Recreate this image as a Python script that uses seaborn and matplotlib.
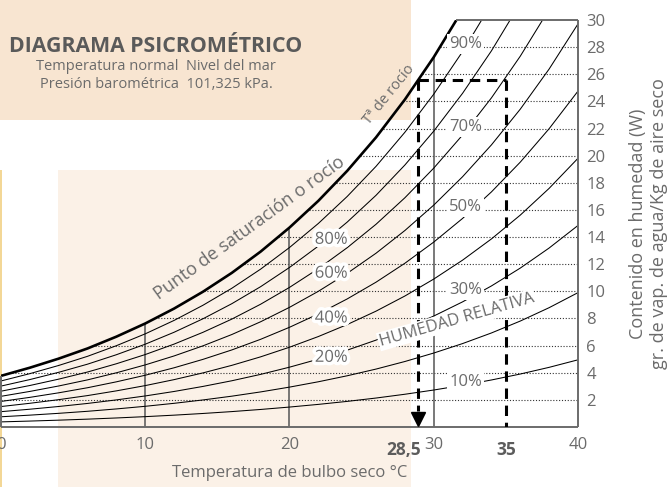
import numpy as np
import pandas as pd
import seaborn as sns
import matplotlib
matplotlib.use('Agg')
import matplotlib.pyplot as plt
import matplotlib.patheffects as pe
from matplotlib.patches import Rectangle

# Dry bulb temperature (°C) and saturation moisture content (g/kg)
temps = [0, 2, 4, 6, 8, 10, 12, 14, 16, 18, 20, 22, 24, 26, 28, 30, 32, 34, 36, 38, 40]
w_sat = [3.77, 4.37, 5.04, 5.79, 6.66, 7.63, 8.73, 9.97, 11.36, 12.93, 14.70,
         16.67, 18.88, 21.35, 24.14, 27.26, 30.75, 34.66, 39.05, 43.98, 49.52]

# Relative humidity curves (%)
rh_levels = [10, 20, 30, 40, 50, 60, 70, 80, 90]

# Curve labels: right column and left column (label -> moisture content where it sits)
right_labels = {90: 28.2, 70: 22.1, 50: 16.2, 30: 10.1, 10: 3.3}
left_labels = {80: 13.8, 60: 11.3, 40: 8.0, 20: 5.1}

# Axis ticks
x_ticks = [0, 10, 20, 30, 40]
y_ticks = list(range(2, 31, 2))
grid_w = list(range(2, 30, 2))
guide_temps = [10, 20, 30]

# Worked example: 35 °C air, dew point 28,5 °C
dry_bulb = 35
dew_point = 28.9
dew_label = '28,5'
point_w = 25.6

GRAY = '#6b6b6b'

# Build long table of RH curves
rows = []
for rh in rh_levels:
    for t, w in zip(temps, w_sat):
        rows.append({'temp': t, 'w': w * rh / 100, 'rh': rh})
df_rh = pd.DataFrame(rows)
df_sat = pd.DataFrame({'temp': temps, 'w': w_sat})

sns.set_theme(style='white')
plt.rcParams['font.family'] = ['Open Sans', 'DejaVu Sans']

fig = plt.figure(figsize=(6.7, 4.87), dpi=100)
ax = fig.add_axes([1 / 670, 60 / 487, 577 / 670, 407 / 487])
ax.patch.set_alpha(0)

# Background panels
fig.add_artist(Rectangle((0, 367 / 487), 411 / 670, 120 / 487, transform=fig.transFigure,
                         facecolor='#f8e5d1', edgecolor='none', zorder=-2))
fig.add_artist(Rectangle((58 / 670, 0), 353 / 670, 317 / 487, transform=fig.transFigure,
                         facecolor='#fbf1e7', edgecolor='none', zorder=-2))
fig.add_artist(Rectangle((0, 0), 2 / 670, 317 / 487, transform=fig.transFigure,
                         facecolor='#f3d796', edgecolor='none', zorder=-2))

# Dotted moisture grid from the saturation curve to 40 °C
for w in grid_w:
    x0 = np.interp(w, w_sat, temps) if w > w_sat[0] else 0
    ax.hlines(w, x0, 40, colors='#333333', linestyles=(0, (1, 1.6)), lw=0.8, zorder=1)

# Vertical guide lines up to saturation
for t in guide_temps:
    ax.vlines(t, 0, np.interp(t, temps, w_sat), colors='#555555', lw=1.1, zorder=1)

# RH curves and saturation curve
sns.lineplot(data=df_rh, x='temp', y='w', units='rh', estimator=None,
             color='black', lw=0.75, ax=ax, zorder=2)
sns.lineplot(data=df_sat, x='temp', y='w', color='black', lw=1.9, ax=ax, zorder=3)

# Custom frame
x_top = np.interp(30, w_sat, temps)
ax.hlines(0, 0, 40, colors=GRAY, lw=1.4, clip_on=False, zorder=4)
ax.vlines(40, 0, 30, colors=GRAY, lw=1.4, clip_on=False, zorder=4)
ax.hlines(30, x_top, 40, colors=GRAY, lw=1.4, clip_on=False, zorder=4)
ax.vlines(0, 0, w_sat[0], colors=GRAY, lw=1.4, clip_on=False, zorder=4)

# Dashed example lines
dash = (0, (3.4, 2.2))
ax.plot([dew_point, dry_bulb], [point_w, point_w], color='black', lw=2.2, linestyle=dash, zorder=5)
ax.plot([dry_bulb, dry_bulb], [point_w, 0], color='black', lw=2.2, linestyle=dash, zorder=5)
ax.plot([dew_point, dew_point], [point_w, 1.2], color='black', lw=2.2, linestyle=dash, zorder=5)
ax.plot([dew_point], [0.6], marker='v', color='black', markersize=10, zorder=5)

# RH labels
for rh, w in right_labels.items():
    ax.text(32.2, w, f'{rh}%', ha='center', va='center', fontsize=12, color=GRAY, zorder=6,
            bbox=dict(facecolor='white', edgecolor='none', pad=1.5))
for rh, w in left_labels.items():
    ax.text(22.9, w, f'{rh}%', ha='center', va='center', fontsize=12, color=GRAY, zorder=6,
            path_effects=[pe.withStroke(linewidth=5, foreground='white')])

ax.text(31.6, 7.9, 'HUMEDAD RELATIVA', ha='center', va='center', rotation=16,
        rotation_mode='anchor', fontsize=12, color=GRAY, zorder=7,
        bbox=dict(facecolor='white', edgecolor='none', pad=1))
ax.text(17.2, 14.7, 'Punto de saturación o rocío', ha='center', va='center', rotation=36,
        rotation_mode='anchor', fontsize=13, color=GRAY, zorder=6)
ax.text(26.9, 24.5, 'Tª de rocío', ha='center', va='center', rotation=51,
        rotation_mode='anchor', fontsize=10.5, color=GRAY, zorder=6)

# Axes and ticks
ax.set_xlim(0, 40)
ax.set_ylim(0, 30)
sns.despine(ax=ax, left=True, bottom=True, top=True, right=True)
ax.yaxis.tick_right()
ax.yaxis.set_label_position('right')
ax.set_xticks(x_ticks)
ax.set_yticks(y_ticks)
ax.tick_params(axis='both', length=0, labelsize=12, labelcolor=GRAY)
ax.tick_params(axis='x', pad=7)
ax.tick_params(axis='y', pad=6)

ax.text(dew_point + 0.2, -0.035, dew_label, transform=ax.get_xaxis_transform(), ha='right',
        va='top', fontsize=12.5, fontweight='bold', color='#5c5c5c')
ax.text(dry_bulb, -0.035, str(dry_bulb), transform=ax.get_xaxis_transform(), ha='center',
        va='top', fontsize=12.5, fontweight='bold', color='#5c5c5c')

ax.set_xlabel('Temperatura de bulbo seco °C', fontsize=12, color=GRAY, labelpad=9)
ax.set_ylabel('Contenido en humedad (W)\ngr. de vap. de agua/Kg de aire seco',
              fontsize=13, color=GRAY, labelpad=17, rotation=90, multialignment='center')

# Title block
fig.text(156 / 670, 1 - 46 / 487, 'DIAGRAMA PSICROMÉTRICO', ha='center', va='center',
         fontsize=15.3, fontweight='bold', color='#5a5a5a')
fig.text(156 / 670, 1 - 67 / 487, 'Temperatura normal  Nivel del mar', ha='center', va='center',
         fontsize=10.5, color=GRAY)
fig.text(156 / 670, 1 - 84 / 487, 'Presión barométrica  101,325 kPa.', ha='center', va='center',
         fontsize=10.5, color=GRAY)

fig.savefig('out.png', dpi=100, facecolor='white')
